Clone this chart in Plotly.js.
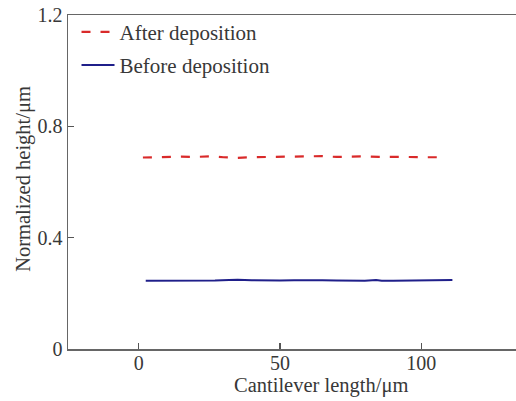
<!DOCTYPE html>
<html><head><meta charset="utf-8">
<script src="https://cdn.plot.ly/plotly-3.0.1.min.js"></script>
<style>html,body{margin:0;padding:0;background:#fff;}#plot{width:516px;height:401px;}</style>
</head><body><div id="plot"></div>
<script>
const xAfter = [1.5, 5, 10, 15, 20, 25, 30, 35, 40, 45, 50, 55, 60, 65, 70, 75, 80, 85, 90, 95, 100, 105, 109];
const yAfter = [0.688, 0.689, 0.690, 0.691, 0.690, 0.692, 0.689, 0.687, 0.689, 0.690, 0.690, 0.691, 0.694, 0.693, 0.690, 0.691, 0.692, 0.690, 0.691, 0.690, 0.689, 0.690, 0.689];
const xBefore = [2.5, 7, 12, 17, 22, 27, 32, 35, 40, 45, 50, 55, 60, 65, 70, 75, 80, 84, 86, 90, 95, 100, 105, 111];
const yBefore = [0.245, 0.245, 0.246, 0.246, 0.247, 0.246, 0.248, 0.249, 0.247, 0.246, 0.246, 0.247, 0.248, 0.247, 0.246, 0.246, 0.245, 0.248, 0.245, 0.245, 0.246, 0.247, 0.248, 0.248];
const yTickVals = [0, 0.4, 0.8, 1.2];
const yTickText = ['0', '0.4', '0.8', '1.2'];
const xTickVals = [0, 50, 100];
const xTickText = ['0', '50', '100'];

const fontFam = 'Liberation Serif, Times New Roman, serif';
const txtColor = '#383838';
const data = [
  {x: xAfter, y: yAfter, mode: 'lines', name: 'After deposition', legendgroup: 'a',
   line: {color: '#d92a2a', width: 2.2, dash: '9px,10px'}},
  {x: xBefore, y: yBefore, mode: 'lines', name: 'Before deposition', legendgroup: 'b',
   line: {color: '#1f1f8a', width: 2}}
];
const layout = {
  width: 516, height: 401,
  margin: {l: 68, r: 0, t: 15, b: 52},
  paper_bgcolor: '#fff', plot_bgcolor: '#fff',
  font: {family: fontFam, size: 20, color: txtColor},
  showlegend: true,
  legend: {x: 0.019, y: 1.01, xanchor: 'left', yanchor: 'top', bgcolor: 'rgba(0,0,0,0)',
           font: {family: fontFam, size: 21, color: txtColor}, traceorder: 'grouped', tracegroupgap: 3, itemwidth: 33},
  xaxis: {range: [-25, 133.5], tickvals: xTickVals, ticktext: xTickText,
          ticks: 'inside', ticklen: 6, tickcolor: '#555', tickwidth: 1.2, ticklabelstandoff: -5,
          tickfont: {family: fontFam, size: 20, color: txtColor},
          showline: true, linecolor: '#666', linewidth: 1.5, mirror: true,
          showgrid: false, zeroline: false},
  yaxis: {range: [0, 1.2], tickvals: yTickVals, ticktext: yTickText,
          ticks: 'inside', ticklen: 6, tickcolor: '#555', tickwidth: 1.2,
          tickfont: {family: fontFam, size: 20, color: txtColor},
          showline: true, linecolor: '#666', linewidth: 1.5, mirror: false,
          showgrid: false, zeroline: false},
  annotations: [
    {text: 'Cantilever length/μm', xref: 'paper', yref: 'paper', x: 0.565, y: -0.11,
     xanchor: 'center', yanchor: 'middle', showarrow: false,
     font: {family: fontFam, size: 20.5, color: txtColor}},
    {text: 'Normalized height/μm', xref: 'paper', yref: 'paper', x: -0.1, y: 0.51,
     xanchor: 'center', yanchor: 'middle', showarrow: false, textangle: -90,
     font: {family: fontFam, size: 20.5, color: txtColor}}
  ]
};
Plotly.newPlot('plot', data, layout, {displayModeBar: false, staticPlot: true});
</script></body></html>
